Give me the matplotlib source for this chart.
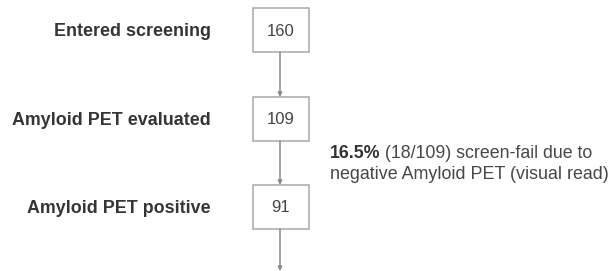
import matplotlib.pyplot as plt
from matplotlib.patches import Rectangle

plt.rcParams["font.family"] = ["Liberation Sans", "DejaVu Sans"]

# flow steps
labels = ["Entered screening", "Amyloid PET evaluated", "Amyloid PET positive"]
counts = [160, 109, 91]

# screen-fail note
fail_pct = "16.5%"
fail_frac = "(18/109) screen-fail due to"
fail_line2 = "negative Amyloid PET (visual read)"

fig = plt.figure(figsize=(6.13, 2.71), dpi=100)
ax = fig.add_axes([0, 0, 1, 1])
ax.set_xlim(0, 613)
ax.set_ylim(271, 0)
ax.axis("off")

box_x, box_w, box_h = 253, 56, 44
tops = [8, 97, 185]
cx = box_x + box_w / 2

for lab, n, top in zip(labels, counts, tops):
    ax.add_patch(Rectangle((box_x, top), box_w, box_h, fill=False,
                           edgecolor="#a8a8a8", lw=1.1))
    ax.text(cx, top + box_h / 2 + 1, str(n), ha="center", va="center",
            fontsize=12, color="#444444")
    ax.text(211, top + box_h / 2 + 1.5, lab, ha="right", va="center",
            fontsize=12.9, fontweight="bold", color="#353535")

# arrows between boxes, and one leaving the last box
ends = tops[1:] + [271]
for top, end in zip(tops, ends):
    ax.annotate("", xy=(cx - 1, end), xytext=(cx - 1, top + box_h),
                arrowprops=dict(arrowstyle="-|>", color="#8a8a8a", lw=1.1,
                                mutation_scale=6, shrinkA=0, shrinkB=0))

t1 = ax.text(330, 158, fail_pct, ha="left", va="baseline", fontsize=12.8,
             fontweight="bold", color="#333333")
ax.annotate(" " + fail_frac, xy=(1, 0), xycoords=t1, ha="left", va="bottom",
            fontsize=12.8, color="#474747")
ax.text(330, 179, fail_line2, ha="left", va="baseline", fontsize=12.9,
        color="#474747")

fig.savefig("out.png", dpi=100)
